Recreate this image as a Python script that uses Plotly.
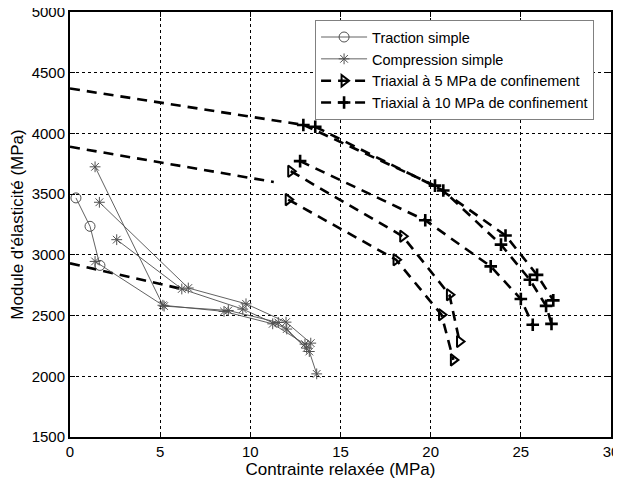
import plotly.graph_objects as go

# ---------------- data ----------------
# Traction simple
trac_x = [0.33, 1.11, 1.66]
trac_y = [3469, 3235, 2913]

# Compression simple (four specimens)
comp1_x = [1.39, 5.15, 8.54, 11.24, 13.03]
comp1_y = [3725, 2585, 2534, 2432, 2265]
comp2_x = [1.63, 6.56, 9.76, 11.98, 13.35]
comp2_y = [3433, 2727, 2597, 2446, 2273]
comp3_x = [2.59, 6.20, 9.58, 12.02, 13.27, 13.68]
comp3_y = [3125, 2719, 2553, 2389, 2204, 2020]
comp4_x = [1.39, 5.22, 8.78, 11.55, 13.12]
comp4_y = [2946, 2578, 2542, 2443, 2232]

# Triaxial 5 MPa (two specimens)
tri5a_x = [12.24, 18.45, 21.04, 21.60]
tri5a_y = [3689, 3153, 2672, 2286]
tri5b_x = [12.10, 18.08, 20.60, 21.26]
tri5b_y = [3455, 2960, 2507, 2135]

# Triaxial 10 MPa (three specimens)
tri10a_x = [12.94, 20.24, 24.15, 25.90, 26.80]
tri10a_y = [4070, 3570, 3160, 2835, 2625]
tri10b_x = [13.60, 20.70, 23.90, 25.50, 26.40, 26.70]
tri10b_y = [4055, 3530, 3084, 2795, 2580, 2432]
tri10c_x = [12.76, 19.70, 23.33, 25.00, 25.66]
tri10c_y = [3772, 3285, 2905, 2636, 2424]

# initial (dashed) lines starting at zero stress
init1_x = [0, 12.94]
init1_y = [4370, 4070]
init2_x = [0, 11.3]
init2_y = [3890, 3600]
init3_x = [0, 6.2]
init3_y = [2930, 2719]

x_ticks = [0, 5, 10, 15, 20, 25, 30]
y_ticks = [1500, 2000, 2500, 3000, 3500, 4000, 4500, 5000]

# ---------------- figure ----------------
FONT = "Arial, Liberation Sans, sans-serif"
GRAY = "#505050"
fig = go.Figure()

dash_style = dict(color="black", width=2.6, dash="10px,7px")

for xs, ys in [(init1_x, init1_y), (init2_x, init2_y), (init3_x, init3_y)]:
    fig.add_trace(go.Scatter(x=xs, y=ys, mode="lines", line=dash_style,
                             showlegend=False, hoverinfo="skip"))

fig.add_trace(go.Scatter(
    x=trac_x, y=trac_y, mode="lines+markers", name="Traction simple",
    line=dict(color=GRAY, width=0.9),
    marker=dict(symbol="circle-open", size=10, color=GRAY, line=dict(width=1, color=GRAY)),
))

comp_sets = [(comp1_x, comp1_y), (comp2_x, comp2_y), (comp3_x, comp3_y), (comp4_x, comp4_y)]
for i, (xs, ys) in enumerate(comp_sets):
    fig.add_trace(go.Scatter(
        x=xs, y=ys, mode="lines+markers", name="Compression simple",
        legendgroup="comp", showlegend=(i == 0),
        line=dict(color=GRAY, width=0.9),
        marker=dict(symbol="asterisk-open", size=9, color=GRAY, line=dict(width=1, color=GRAY)),
    ))

for i, (xs, ys) in enumerate([(tri5a_x, tri5a_y), (tri5b_x, tri5b_y)]):
    fig.add_trace(go.Scatter(
        x=xs, y=ys, mode="lines+markers", name="Triaxial à 5 MPa de confinement",
        legendgroup="t5", showlegend=(i == 0),
        line=dash_style,
        marker=dict(symbol="triangle-right-open", size=10, color="black",
                    line=dict(width=2, color="black")),
    ))

for i, (xs, ys) in enumerate([(tri10a_x, tri10a_y), (tri10b_x, tri10b_y), (tri10c_x, tri10c_y)]):
    fig.add_trace(go.Scatter(
        x=xs, y=ys, mode="lines+markers", name="Triaxial à 10 MPa de confinement",
        legendgroup="t10", showlegend=(i == 0),
        line=dash_style,
        marker=dict(symbol="cross-thin-open", size=9, color="black",
                    line=dict(width=2.6, color="black")),
    ))

axis_common = dict(
    showline=True, linewidth=2, linecolor="black", mirror="ticks",
    ticks="inside", ticklen=5, tickwidth=1, tickcolor="black",
    showgrid=True, gridcolor="black", gridwidth=1, griddash="dot",
    zeroline=False, automargin=False, ticklabeloverflow="allow",
    tickfont=dict(family=FONT, size=15, color="black"),
)

fig.update_xaxes(range=[0, 30], tickvals=x_ticks,
                 title=dict(text="Contrainte relaxée (MPa)", font=dict(family=FONT, size=17, color="black"), standoff=0),
                 **axis_common)
fig.update_yaxes(range=[1500, 5000], tickvals=y_ticks, tickformat="d",
                 title=dict(text="Module d'élasticité (MPa)", font=dict(family=FONT, size=17, color="black"), standoff=4),
                 **axis_common)

# the page body adds an 8 px offset, so the figure is sized to fill the rest
fig.update_layout(
    width=613, height=471,
    margin=dict(l=62, r=10, t=4, b=42),
    paper_bgcolor="white", plot_bgcolor="white",
    font=dict(family=FONT, color="black"),
    legend=dict(x=0.453, y=0.981, xanchor="left", yanchor="top",
                bgcolor="white", bordercolor="#808080", borderwidth=1,
                font=dict(family=FONT, size=14.5, color="black"),
                itemwidth=46, tracegroupgap=0),
)

fig.write_html("out.html")
